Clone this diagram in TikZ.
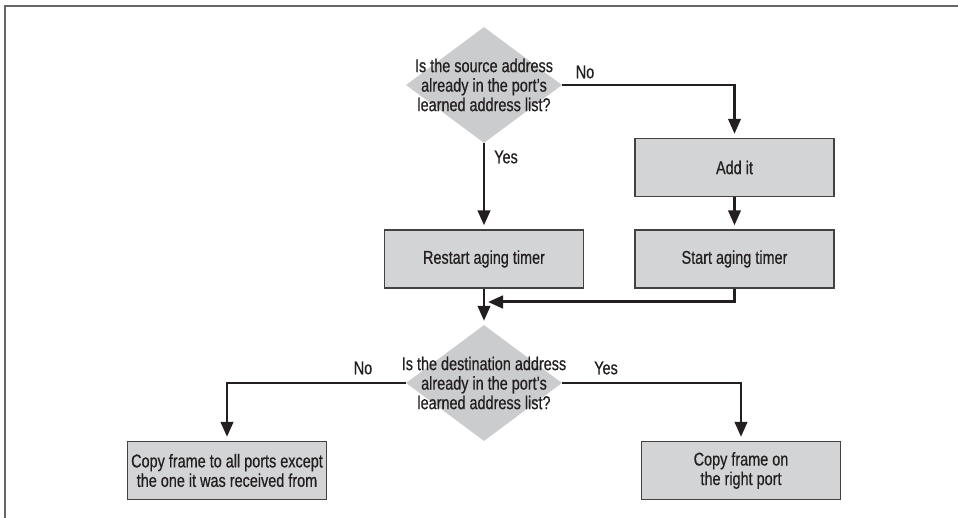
\documentclass[tikz,border=0pt]{standalone}
\usepackage{fontspec}
\setmainfont{Liberation Sans}[FakeStretch=0.78,FakeBold=0.6]
\usetikzlibrary{shapes.geometric,arrows.meta}
\definecolor{boxfill}{HTML}{D3D4D6}
\definecolor{diafill}{HTML}{CBCCCE}
\definecolor{ink}{HTML}{231F20}
\definecolor{frame}{HTML}{666666}
\tikzset{
  procbox/.style={draw=ink!85, line width=1.4pt, fill=boxfill, minimum width=199pt, minimum height=58pt, inner sep=0pt, align=center, text=ink, font=\fontsize{18.5}{19.5}\selectfont},
  dia/.style={shape=diamond, fill=diafill, minimum width=156pt, minimum height=116pt, inner sep=0pt},
  diatext/.style={align=center, text=ink, inner sep=0pt, font=\fontsize{18.5}{19.5}\selectfont},
  lbl/.style={text=ink, inner sep=0pt, font=\fontsize{18.5}{19.5}\selectfont},
  arr/.style={draw=ink, line width=2.6pt, -{Triangle[width=12.5pt,length=15pt]}, shorten >=4pt},
}
\begin{document}
\begin{tikzpicture}[x=1pt,y=-1pt]
\useasboundingbox (0,0) rectangle (958,518);
\draw[frame, line width=1.6pt] (5,518) -- (5,6) -- (958,6);

\node[dia] (d1) at (484,85) {};
\node[diatext] (d1t) at (d1.center) {Is the source address\\already in the port’s\\learned address list?};
\node[procbox] (add) at (734.5,167.5) {Add it};
\node[procbox] (restart) at (484,259) {Restart aging timer};
\node[procbox] (start) at (734.5,259) {Start aging timer};
\node[dia] (d2) at (484,383) {};
\node[diatext] (d2t) at (d2.center) {Is the destination address\\already in the port’s\\learned address list?};
\node[procbox] (left) at (227,470.5) {Copy frame to all ports except\\the one it was received from};
\node[procbox] (right) at (741,470.5) {Copy frame on\\the right port};
\coordinate (merge) at (484,302);

\node[lbl] (no1) at (585,72) {No};
\node[lbl] (yes1) at (506,157) {Yes};
\node[lbl] (no2) at (363,368) {No};
\node[lbl] (yes2) at (606,368) {Yes};

\draw[arr] (d1.east) -| (add.north);
\draw[arr] (d1.south) -- (restart.north);
\draw[arr] (add.south) -- (start.north);
\draw[arr] (restart.south) -- (d2.north);
\draw[arr, line width=3pt] (start.south) |- (merge);
\draw[arr] (d2.west) -| (left.north);
\draw[arr] (d2.east) -| (right.north);
\end{tikzpicture}
\end{document}
